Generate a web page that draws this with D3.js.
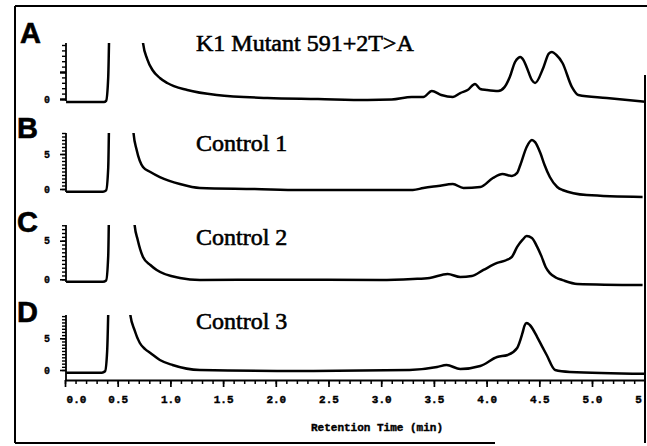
<!DOCTYPE html>
<html><head><meta charset="utf-8">
<script src="https://cdn.jsdelivr.net/npm/d3@7"></script>
<style>
html,body{margin:0;padding:0;background:#fff;}
svg{display:block;}
</style></head>
<body>
<svg id="chart" width="647" height="446"></svg>
<script>
// ---------------- data ----------------
const panelLetters = ["A", "B", "C", "D"];
const panelTitles = ["K1 Mutant 591+2T>A", "Control 1", "Control 2", "Control 3"];
const xTickValues = [0.0, 0.5, 1.0, 1.5, 2.0, 2.5, 3.0, 3.5, 4.0, 4.5, 5.0, 5.5];
const xAxisTitle = "Retention Time (min)";
const yTickLabelValues = [0, 5];

const timeA = [0.01,0.37,0.39,0.41,0.43,0.70,0.74,0.78,0.83,0.90,0.97,1.16,1.44,1.92,2.40,2.87,3.10,3.29,3.40,3.48,3.57,3.68,3.75,3.82,3.89,3.94,4.00,4.11,4.17,4.22,4.27,4.30,4.32,4.35,4.38,4.43,4.46,4.54,4.59,4.62,4.66,4.72,4.81,4.87,5.14,5.52];
const valueA = [-0.56,-0.56,-0.35,4,20,20,10.4,7.4,5.37,3.9,2.96,1.67,0.74,0.19,0.0,-0.19,-0.1,0.37,0.37,1.48,0.74,0.37,1.11,1.67,2.78,1.85,1.67,1.48,2.2,4.07,6.85,7.6,7.78,7.2,5.9,3.5,2.96,5.9,8.4,8.7,8.2,6.67,2.2,0.74,0.19,-0.56];

const timeB = [0.01,0.36,0.39,0.41,0.43,0.62,0.65,0.68,0.74,0.81,0.90,1.09,1.28,1.80,2.23,2.99,3.30,3.40,3.54,3.68,3.78,3.94,4.06,4.15,4.24,4.29,4.32,4.38,4.43,4.46,4.51,4.55,4.60,4.67,4.72,4.95,5.48];
const valueB = [-0.4,-0.4,-0.2,3,20,20,8,5.57,3.14,2.43,1.71,0.71,0.14,0,-0.14,-0.14,-0.14,0.14,0.43,0.71,0.14,0.29,1.57,2.14,1.86,2.3,3.43,6.0,7.0,6.7,5.14,3.43,1.71,0.29,-0.14,-0.86,-1.14];

const timeC = [0.01,0.36,0.39,0.41,0.43,0.63,0.66,0.69,0.74,0.81,0.87,1.09,1.28,2.0,2.99,3.30,3.46,3.63,3.75,3.86,3.97,4.10,4.19,4.24,4.29,4.34,4.38,4.43,4.48,4.52,4.56,4.60,4.66,4.72,4.86,5.48];
const valueC = [-0.31,-0.31,-0.15,3,20,20,7.1,5.1,2.9,1.85,1.2,0.17,-0.09,-0.05,-0.09,0.04,0.17,0.69,0.3,0.43,1.21,2.12,2.5,2.9,4.2,5.1,5.6,5.35,4.2,3.0,1.6,0.8,0.2,-0.1,-0.6,-0.74];

const timeD = [0.01,0.35,0.38,0.40,0.43,0.59,0.62,0.66,0.71,0.76,0.81,0.90,1.02,1.28,2.23,3.27,3.53,3.62,3.75,3.94,4.10,4.20,4.29,4.34,4.36,4.38,4.41,4.48,4.53,4.57,4.65,4.79,5.50];
const valueD = [-0.43,-0.43,-0.2,3,20,20,8.67,6.3,4.26,3.3,2.68,1.58,0.79,0,-0.16,0,0.47,0.79,0.16,0.63,2.05,2.37,3.47,5.8,7.0,7.41,7.1,5.2,3.6,2.37,0,-0.3,-0.6];

const seriesTimes = [timeA, timeB, timeC, timeD];
const seriesValues = [valueA, valueB, valueC, valueD];

// ---------------- layout ----------------
const layout = [
  {top: 43,  zero: 99,    five: 72,    bottom: 101, minorStep: 1,   letterX: 20, letterY: 43,  titleY: 51},
  {top: 133, zero: 189,   five: 154,   bottom: 192, minorStep: 0.5, letterX: 17, letterY: 138, titleY: 151},
  {top: 225, zero: 279.3, five: 240.7, bottom: 282, minorStep: 0.5, letterX: 17, letterY: 232, titleY: 245},
  {top: 315, zero: 370,   five: 338.3, bottom: 380, minorStep: 0.5, letterX: 17, letterY: 322, titleY: 329}
];
const axisX = 66, xAxisY = 380, rightEdge = 645;

const svg = d3.select("#chart");
const x = d3.scaleLinear().domain([0, 5.5]).range([65, 65 + 105.4 * 5.5]);

svg.append("defs").append("clipPath").attr("id", "clipRight")
  .append("rect").attr("x", 0).attr("y", 0).attr("width", rightEdge).attr("height", 446);

// frame
const frame = svg.append("g").attr("fill", "none").attr("stroke", "#000").attr("stroke-width", 2);
frame.append("line").attr("x1", 15).attr("y1", 6).attr("x2", 647).attr("y2", 6);
frame.append("line").attr("x1", 15).attr("y1", 6).attr("x2", 15).attr("y2", 443);
frame.append("line").attr("x1", 15).attr("y1", 443).attr("x2", 495).attr("y2", 443);
frame.append("line").attr("x1", 645).attr("y1", 75).attr("x2", 645).attr("y2", 443);

const monoFont = "'Liberation Mono','DejaVu Sans Mono',monospace";

layout.forEach((L, i) => {
  const y = d3.scaleLinear().domain([0, 5]).range([L.zero, L.five]);
  const topVal = y.invert(L.top);
  const g = svg.append("g");

  const cid = "clipP" + i;
  svg.select("defs").append("clipPath").attr("id", cid)
    .append("rect").attr("x", axisX).attr("y", L.top).attr("width", rightEdge - axisX).attr("height", 200);

  // y axis minor ticks
  const minorVals = d3.range(0, topVal + 1e-6, L.minorStep);
  g.append("g").attr("transform", `translate(${axisX},0)`)
    .call(d3.axisLeft(y).tickValues(minorVals).tickSize(4).tickFormat(""))
    .call(a => a.select(".domain").remove())
    .call(a => a.selectAll("line").attr("stroke-width", 1.4));
  // y axis major ticks with labels
  const major = g.append("g").attr("transform", `translate(${axisX},0)`)
    .call(d3.axisLeft(y).tickValues(yTickLabelValues).tickSize(6).tickPadding(14).tickFormat(d3.format("d")))
    .call(a => a.select(".domain").remove())
    .call(a => a.selectAll("line").attr("stroke-width", i === 0 ? 2.4 : 1.6));
  major.selectAll("text")
    .attr("font-family", monoFont).attr("font-weight", "bold").attr("font-size", 10)
    .attr("text-anchor", "middle").attr("x", -19).attr("fill", "#000")
    .attr("stroke", "#000").attr("stroke-width", 0.3);
  if (i === 0) major.selectAll(".tick").filter(d => d === 5).select("text").remove();
  // y axis line
  g.append("line").attr("x1", axisX).attr("x2", axisX).attr("y1", L.top).attr("y2", L.bottom)
    .attr("stroke", "#000").attr("stroke-width", 1.8);

  // trace
  const pts = seriesTimes[i].map((t, k) => [t, seriesValues[i][k]]);
  const line = d3.line().x(d => x(d[0])).y(d => y(d[1])).curve(d3.curveMonotoneX);
  g.append("path").datum(pts).attr("d", line)
    .attr("clip-path", `url(#${cid})`)
    .attr("fill", "none").attr("stroke", "#000").attr("stroke-width", 2.5)
    .attr("stroke-linejoin", "round");

  // letter
  svg.append("text").attr("x", L.letterX).attr("y", L.letterY).text(panelLetters[i])
    .attr("font-family", "'Liberation Sans',Arial,sans-serif").attr("font-weight", "bold")
    .attr("font-size", 29).attr("fill", "#000").attr("stroke", "#000").attr("stroke-width", 0.6);
  // title
  svg.append("text").attr("x", 196).attr("y", L.titleY).text(panelTitles[i])
    .attr("font-family", "'Liberation Serif','Times New Roman',serif")
    .attr("font-size", 24).attr("fill", "#000").attr("stroke", "#000").attr("stroke-width", 0.6);
});

// x axis
const xg = svg.append("g").attr("clip-path", "url(#clipRight)");
xg.append("g").attr("transform", `translate(0,${xAxisY})`)
  .call(d3.axisBottom(x).tickValues(d3.range(0, 5.51, 0.1)).tickSize(4).tickSizeOuter(0).tickFormat(""))
  .call(a => a.select(".domain").attr("stroke-width", 2))
  .call(a => a.selectAll(".tick line").attr("stroke-width", 1.5));
const xmaj = xg.append("g").attr("transform", `translate(0,${xAxisY})`)
  .call(d3.axisBottom(x).tickValues(xTickValues).tickSize(7).tickSizeOuter(0).tickFormat(d3.format(".1f")))
  .call(a => a.select(".domain").remove())
  .call(a => a.selectAll(".tick line").attr("stroke-width", 1.7));
xmaj.selectAll("text")
  .attr("font-family", monoFont).attr("font-weight", "bold").attr("font-size", 11)
  .attr("y", 23).attr("dy", 0).attr("fill", "#000")
  .attr("stroke", "#000").attr("stroke-width", 0.4)
  .attr("dx", d => d === 0 ? 11 : 0);

svg.append("text").attr("x", 377).attr("y", 431).attr("text-anchor", "middle")
  .text(xAxisTitle)
  .attr("font-family", monoFont).attr("font-weight", "bold").attr("font-size", 11)
  .attr("fill", "#000").attr("stroke", "#000").attr("stroke-width", 0.4);
</script>
</body></html>
